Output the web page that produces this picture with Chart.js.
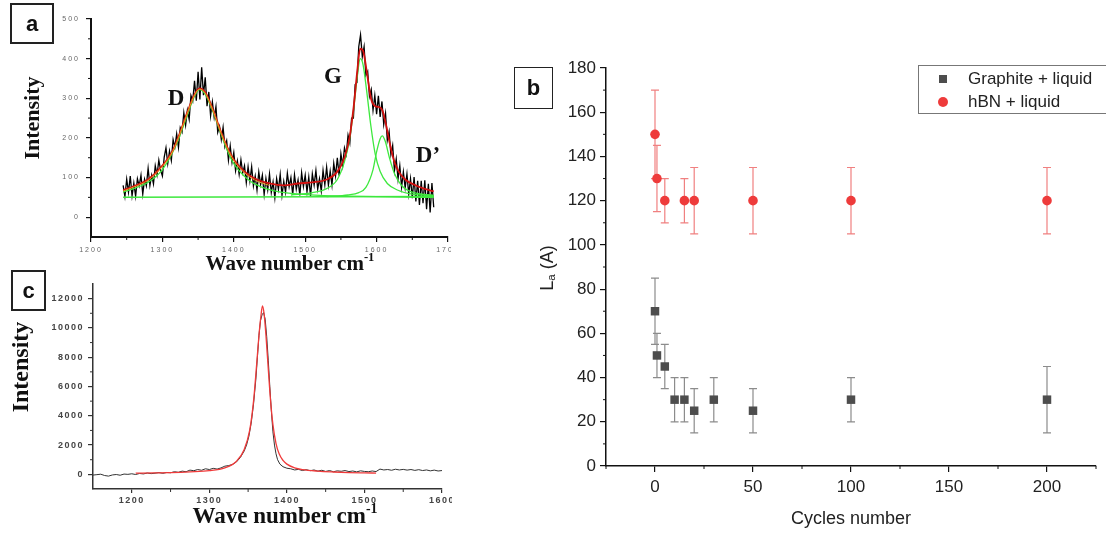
<!DOCTYPE html>
<html>
<head>
<meta charset="utf-8">
<script src="https://cdn.jsdelivr.net/npm/chart.js@4.4.0/dist/chart.umd.min.js"></script>
<style>
body { margin: 0; background: #fff; width: 1106px; height: 535px; position: relative; overflow: hidden; font-family: 'Liberation Sans', Arial, sans-serif; }
canvas { position: absolute; }
.box { position: absolute; border: 2px solid #222; box-sizing: border-box; display: flex; align-items: center; justify-content: center; font-weight: bold; font-size: 22px; color: #111; }
.serif { position: absolute; font-family: 'Liberation Serif', 'Times New Roman', serif; font-weight: bold; color: #111; white-space: nowrap; transform: translate(-50%, -50%); }
.sans { position: absolute; color: #222; white-space: nowrap; transform: translate(-50%, -50%); }
.rot { transform: translate(-50%, -50%) rotate(-90deg); }
sup { font-size: 0.6em; vertical-align: 0.7em; }
sub { font-size: 0.65em; vertical-align: -0.25em; }
#legend { position: absolute; left: 918px; top: 65px; width: 200px; height: 49px; border: 1px solid #777; box-sizing: border-box; }
.lg { position: absolute; left: 49px; font-size: 17px; color: #222; transform: translateY(-50%); white-space: nowrap; }
</style>
</head>
<body>
<canvas id="chartA" width="451" height="280" style="left:0;top:0"></canvas>
<canvas id="chartC" width="452" height="273" style="left:0;top:262px"></canvas>
<canvas id="chartB" width="606" height="505" style="left:500px;top:30px"></canvas>

<div class="box" style="left:10px;top:3px;width:44px;height:41px">a</div>
<div class="box" style="left:11px;top:270px;width:35px;height:41px">c</div>
<div class="box" style="left:514px;top:67px;width:39px;height:42px;border-width:1.5px">b</div>

<div class="serif rot" style="left:32px;top:118px;font-size:22px">Intensity</div>
<div class="serif" style="left:290px;top:263px;font-size:21px">Wave number cm<sup>-1</sup></div>
<div class="serif" style="left:176px;top:98px;font-size:23px">D</div>
<div class="serif" style="left:333px;top:76px;font-size:23px">G</div>
<div class="serif" style="left:428px;top:155px;font-size:23px">D’</div>

<div class="serif rot" style="left:20px;top:367px;font-size:24px">Intensity</div>
<div class="serif" style="left:285px;top:515px;font-size:23px">Wave number cm<sup>-1</sup></div>

<div class="sans rot" style="left:547px;top:268px;font-size:18px">L<sub>a</sub> (A)</div>
<div class="sans" style="left:851px;top:518px;font-size:18px">Cycles number</div>

<div id="legend">
  <div style="position:absolute;left:20px;top:9px;width:8px;height:8px;background:#4d4d4d"></div>
  <div class="lg" style="top:13px">Graphite + liquid</div>
  <div style="position:absolute;left:19px;top:31px;width:10px;height:10px;border-radius:50%;background:#ee3b3b"></div>
  <div class="lg" style="top:36px">hBN + liquid</div>
</div>

<script>
// ---- panel a: Raman spectrum with fitted bands ----
const aNoiseStart = 1245;
const aNoiseStep = 2.5;
const aNoise = [80, 52, 96, 63, 104, 54, 86, 53, 97, 79,
  106, 58, 96, 79, 123, 80, 106, 84, 130, 107,
  144, 118, 104, 151, 175, 135, 167, 143, 196, 177,
  210, 176, 226, 215, 264, 232, 270, 247, 307, 293,
  344, 294, 367, 297, 378, 308, 353, 280, 316, 256,
  291, 252, 279, 214, 229, 196, 227, 178, 193, 144,
  180, 138, 163, 117, 142, 108, 145, 112, 130, 87,
  127, 91, 127, 79, 104, 68, 114, 82, 106, 57,
  98, 69, 109, 62, 89, 49, 97, 70, 108, 55,
  90, 63, 111, 77, 100, 57, 107, 71, 94, 55,
  112, 77, 106, 64, 101, 53, 109, 81, 118, 71,
  97, 66, 118, 82, 126, 81, 116, 81, 136, 104,
  150, 105, 160, 130, 175, 158, 207, 187, 250, 250,
  335, 340, 430, 460, 405, 430, 358, 368, 305, 322,
  270, 307, 260, 306, 253, 292, 234, 262, 194, 216,
  158, 181, 117, 147, 96, 130, 76, 114, 74, 109,
  58, 97, 48, 101, 40, 92, 31, 92, 35, 93,
  20, 84, 12, 86, 25];

const aFitX = [1245, 1260, 1280, 1300, 1315, 1325, 1335, 1345, 1352, 1360, 1370, 1380, 1390, 1400, 1415, 1430, 1450, 1470, 1490, 1510, 1530, 1545, 1555, 1562, 1568, 1573, 1577, 1581, 1586, 1592, 1598, 1603, 1608, 1613, 1618, 1624, 1630, 1640, 1655, 1670, 1680];
const aFitY = [68, 78, 95, 130, 170, 215, 265, 310, 325, 315, 275, 225, 180, 145, 115, 97, 85, 80, 85, 88, 95, 115, 150, 200, 280, 370, 425, 420, 370, 300, 280, 278, 270, 235, 190, 145, 118, 95, 80, 70, 65];

const aOrangeX = [1245, 1260, 1280, 1300, 1315, 1325, 1335, 1345, 1352, 1360, 1370, 1380, 1390, 1400, 1415, 1430, 1450];
const aOrangeY = [66, 76, 93, 128, 168, 213, 263, 308, 323, 313, 273, 223, 178, 143, 112, 93, 80];

const aDX = [1245, 1280, 1300, 1320, 1335, 1345, 1352, 1360, 1370, 1380, 1390, 1400, 1420, 1440, 1460, 1480, 1520, 1560, 1620, 1680];
const aDY = [63, 88, 120, 185, 258, 305, 322, 310, 270, 220, 172, 135, 95, 75, 65, 60, 55, 53, 51, 50];
const aGX = [1480, 1510, 1530, 1545, 1555, 1562, 1568, 1573, 1577, 1581, 1586, 1592, 1598, 1605, 1615, 1630, 1650, 1680];
const aGY = [56, 62, 72, 95, 140, 195, 275, 355, 400, 385, 320, 230, 160, 115, 85, 68, 58, 54];
const aD2X = [1530, 1560, 1575, 1585, 1595, 1600, 1605, 1608, 1612, 1618, 1625, 1635, 1650, 1680];
const aD2Y = [52, 56, 62, 75, 120, 165, 198, 205, 192, 150, 110, 80, 63, 55];
const aBaseX = [1245, 1680];
const aBaseY = [50, 52];

const aXTicks = [1200, 1300, 1400, 1500, 1600, 1700];
const aYTicks = [0, 100, 200, 300, 400, 500];

// ---- panel c: hBN peak ----
const cRawX = [1150, 1155, 1160, 1165, 1170, 1175, 1180, 1185, 1190, 1195, 1200, 1205, 1210, 1215, 1220, 1225, 1230, 1235, 1240, 1245, 1250, 1255, 1260, 1265, 1270, 1275, 1280, 1285, 1290, 1295, 1300, 1305, 1310, 1315, 1320, 1325, 1330, 1335,
  1340, 1345, 1348, 1351, 1354, 1357, 1360, 1362, 1364, 1366, 1368, 1370, 1372, 1374, 1376, 1378, 1380, 1382, 1384, 1386, 1388, 1391, 1395, 1400,
  1405, 1410, 1415, 1420, 1425, 1430, 1435, 1440, 1445, 1450, 1455, 1460, 1465, 1470, 1475, 1480, 1485, 1490, 1495, 1500, 1505, 1510, 1515, 1520, 1525, 1530, 1535, 1540, 1545, 1550, 1555, 1560, 1565, 1570, 1575, 1580, 1585, 1590, 1595, 1600];
const cRawY = [-50, -20, 10, -80, -120, -40, -10, -60, 20, 0, 40, -10, 60, 30, 90, 50, 80, 120, 70, 130, 110, 180, 140, 220, 180, 290, 250, 330, 280, 380, 330, 410, 360, 440, 560, 600, 680, 850,
  1150, 1600, 2000, 2600, 3500, 4800, 6500, 8000, 9500, 10500, 10900, 11050, 10600, 9400, 7800, 6000, 4300, 2900, 2000, 1400, 1000, 700, 520, 420,
  380, 300, 340, 260, 320, 250, 300, 220, 280, 200, 260, 180, 240, 210, 260, 190, 230, 170, 240, 200, 180, 230, 190, 360, 300, 330, 280, 350, 300, 340, 290, 330, 270, 320, 260, 300, 240, 290, 230, 260];
const cFitX = [1205, 1230, 1250, 1275, 1300, 1320, 1335, 1345, 1352, 1357, 1361, 1364, 1366.5, 1368.5, 1370.5, 1373, 1376, 1379, 1382, 1386, 1390, 1395, 1400, 1410, 1420, 1440, 1460, 1480, 1500, 1515];
const cFitY = [80, 100, 120, 170, 250, 450, 900, 1700, 3000, 5000, 7500, 9500, 10800, 11500, 11000, 9500, 7200, 5000, 3400, 2100, 1400, 950, 700, 450, 330, 220, 160, 120, 100, 90];

const cXTicks = [1200, 1300, 1400, 1500, 1600];
const cYTicks = [0, 2000, 4000, 6000, 8000, 10000, 12000];

// ---- panel b: crystallite size vs cycles ----
const gCycles = [0, 1, 5, 10, 15, 20, 30, 50, 100, 200];
const gLa = [70, 50, 45, 30, 30, 25, 30, 25, 30, 30];
const gErr = [15, 10, 10, 10, 10, 10, 10, 10, 10, 15];
const hCycles = [0, 1, 5, 15, 20, 50, 100, 200];
const hLa = [150, 130, 120, 120, 120, 120, 120, 120];
const hErr = [20, 15, 10, 10, 15, 15, 15, 15];

const bXTicks = [0, 50, 100, 150, 200];
const bYTicks = [0, 20, 40, 60, 80, 100, 120, 140, 160, 180];

const pts = (xs, ys) => xs.map((x, i) => ({ x: x, y: ys[i] }));

const minorTicks = (list) => ({
    id: 'minorTicks',
    afterDraw(chart) {
        const ctx = chart.ctx;
        list.forEach(m => {
            const s = chart.scales[m.axis];
            ctx.save();
            ctx.strokeStyle = m.color;
            ctx.lineWidth = m.width;
            m.values.forEach(v => {
                const p = s.getPixelForValue(v);
                ctx.beginPath();
                if (s.isHorizontal()) {
                    ctx.moveTo(p, s.top);
                    ctx.lineTo(p, s.top + m.len);
                } else {
                    ctx.moveTo(s.right, p);
                    ctx.lineTo(s.right - m.len, p);
                }
                ctx.stroke();
            });
            ctx.restore();
        });
    }
});

const spacedLabels = (px) => ({
    id: 'spacedLabels',
    beforeDraw(chart) { chart.ctx.letterSpacing = px; },
    beforeDatasetsDraw(chart) { chart.ctx.letterSpacing = '0px'; }
});

const errorBars = {
    id: 'errorBars',
    beforeDatasetsDraw(chart) {
        const ctx = chart.ctx;
        const x = chart.scales.x, y = chart.scales.y;
        chart.data.datasets.forEach(ds => {
            if (!ds.errors) return;
            ctx.save();
            ctx.strokeStyle = ds.errColor;
            ctx.lineWidth = 1.2;
            ds.data.forEach((p, i) => {
                const px = x.getPixelForValue(p.x);
                const top = y.getPixelForValue(p.y + ds.errors[i]);
                const bot = y.getPixelForValue(p.y - ds.errors[i]);
                ctx.beginPath();
                ctx.moveTo(px, top); ctx.lineTo(px, bot);
                ctx.moveTo(px - 4, top); ctx.lineTo(px + 4, top);
                ctx.moveTo(px - 4, bot); ctx.lineTo(px + 4, bot);
                ctx.stroke();
            });
            ctx.restore();
        });
    }
};

const fixedAxis = (o) => ({
    type: 'linear',
    min: o.min,
    max: o.max,
    afterBuildTicks: s => { s.ticks = o.ticks.map(v => ({ value: v })); },
    afterFit: s => {
        if (o.height !== undefined) s.height = o.height;
        if (o.width !== undefined) s.width = o.width;
        s.paddingLeft = 0; s.paddingRight = 0; s.paddingTop = 0; s.paddingBottom = 0;
    },
    grid: { drawOnChartArea: false, drawTicks: true, tickLength: o.tickLength, color: o.axisColor, lineWidth: 1.2 },
    border: { display: true, color: o.axisColor, width: o.borderWidth },
    ticks: { font: o.font, color: o.labelColor, padding: o.padding, autoSkip: false, maxRotation: 0, callback: v => String(v) }
});

const line = (data, color, width, order, smooth) => ({
    data: data,
    showLine: true,
    borderColor: color,
    borderWidth: width,
    pointRadius: 0,
    tension: smooth ? 0.4 : 0,
    cubicInterpolationMode: smooth ? 'monotone' : 'default',
    order: order
});

const baseOptions = (padding, scales) => ({
    responsive: false,
    animation: false,
    events: [],
    layout: { padding: padding },
    plugins: { legend: { display: false }, tooltip: { enabled: false } },
    scales: scales
});

Chart.defaults.font.family = "'Liberation Sans', Arial, sans-serif";

// panel a
new Chart(document.getElementById('chartA'), {
    type: 'scatter',
    data: {
        datasets: [
            line(aNoise.map((v, i) => ({ x: aNoiseStart + i * aNoiseStep, y: v })), '#000', 1.3, 10, false),
            line(pts(aBaseX, aBaseY), '#3de83d', 1.5, 4, false),
            line(pts(aDX, aDY), '#3de83d', 1.3, 3, true),
            line(pts(aGX, aGY), '#3de83d', 1.3, 3, true),
            line(pts(aD2X, aD2Y), '#3de83d', 1.3, 3, true),
            line(pts(aFitX, aFitY), '#d3100f', 1.8, 2, true),
            line(pts(aOrangeX, aOrangeY), '#e8a020', 1, 1, true)
        ]
    },
    options: baseOptions({ top: 19, right: 3, left: 0, bottom: 0 }, {
        x: fixedAxis({ min: 1200, max: 1700, ticks: aXTicks, height: 43, tickLength: 5, axisColor: '#111', borderWidth: 2,
            font: { size: 7 }, labelColor: '#666', padding: 4 }),
        y: fixedAxis({ min: -50, max: 500, ticks: aYTicks, width: 91, tickLength: 5, axisColor: '#111', borderWidth: 2,
            font: { size: 7 }, labelColor: '#666', padding: 6 })
    }),
    plugins: [spacedLabels('2px'), minorTicks([
        { axis: 'x', values: [1250, 1350, 1450, 1550, 1650], len: 3, color: '#111', width: 1 },
        { axis: 'y', values: [50, 150, 250, 350, 450], len: 3, color: '#111', width: 1 }
    ])]
});

// panel c
new Chart(document.getElementById('chartC'), {
    type: 'scatter',
    data: {
        datasets: [
            line(pts(cRawX, cRawY), '#333', 1, 5, false),
            line(pts(cFitX, cFitY), '#f03a3a', 1.3, 1, true)
        ]
    },
    options: baseOptions({ top: 22, right: 10, left: 0, bottom: 0 }, {
        x: fixedAxis({ min: 1150, max: 1600, ticks: cXTicks, height: 46, tickLength: 4, axisColor: '#333', borderWidth: 1.5,
            font: { size: 9, weight: 'bold' }, labelColor: '#444', padding: 2 }),
        y: fixedAxis({ min: -1000, max: 13000, ticks: cYTicks, width: 93, tickLength: 5, axisColor: '#333', borderWidth: 1.5,
            font: { size: 9, weight: 'bold' }, labelColor: '#444', padding: 4 })
    }),
    plugins: [spacedLabels('1.5px'), minorTicks([
        { axis: 'x', values: [1250, 1350, 1450, 1550], len: 3, color: '#333', width: 1 },
        { axis: 'y', values: [1000, 3000, 5000, 7000, 9000, 11000], len: 3, color: '#333', width: 1 }
    ])]
});

// panel b
new Chart(document.getElementById('chartB'), {
    type: 'scatter',
    data: {
        datasets: [
            {
                data: pts(gCycles, gLa),
                errors: gErr,
                errColor: '#8c8c8c',
                pointStyle: 'rect',
                pointRadius: 6,
                backgroundColor: '#4d4d4d',
                borderColor: '#4d4d4d',
                borderWidth: 0
            },
            {
                data: pts(hCycles, hLa),
                errors: hErr,
                errColor: '#f08080',
                pointStyle: 'circle',
                pointRadius: 4.8,
                backgroundColor: '#ee3b3b',
                borderColor: '#ee3b3b',
                borderWidth: 0
            }
        ]
    },
    options: baseOptions({ top: 38, right: 10, left: 0, bottom: 0 }, {
        x: fixedAxis({ min: -25, max: 225, ticks: bXTicks, height: 69, tickLength: 6, axisColor: '#111', borderWidth: 1.5,
            font: { size: 17 }, labelColor: '#222', padding: 5 }),
        y: fixedAxis({ min: 0, max: 180, ticks: bYTicks, width: 106, tickLength: 6, axisColor: '#111', borderWidth: 1.5,
            font: { size: 17 }, labelColor: '#222', padding: 4 })
    }),
    plugins: [errorBars, minorTicks([
        { axis: 'x', values: [-25, 25, 75, 125, 175, 225], len: 3, color: '#111', width: 1 },
        { axis: 'y', values: [10, 30, 50, 70, 90, 110, 130, 150, 170], len: 3, color: '#111', width: 1 }
    ])]
});
</script>
</body>
</html>
